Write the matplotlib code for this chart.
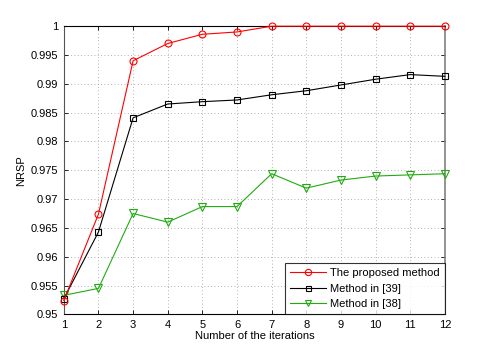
import matplotlib
matplotlib.use("Agg")
import matplotlib.pyplot as plt

iterations = [1, 2, 3, 4, 5, 6, 7, 8, 9, 10, 11, 12]
proposed = [0.9524, 0.9674, 0.9940, 0.9970, 0.9986, 0.9990, 1.0, 1.0, 1.0, 1.0, 1.0, 1.0]
method39 = [0.9527, 0.9643, 0.9841, 0.9865, 0.9869, 0.9872, 0.9881, 0.9888, 0.9898, 0.9908, 0.9916, 0.9913]
method38 = [0.9533, 0.9545, 0.9675, 0.9660, 0.9687, 0.9687, 0.9744, 0.9719, 0.9733, 0.9740, 0.9742, 0.9744]
labels = ["The proposed method", "Method in [39]", "Method in [38]"]
yticks = [0.95, 0.955, 0.96, 0.965, 0.97, 0.975, 0.98, 0.985, 0.99, 0.995, 1.0]
ytick_labels = ["0.95", "0.955", "0.96", "0.965", "0.97", "0.975", "0.98", "0.985", "0.99", "0.995", "1"]

plt.rcParams['font.family'] = ['Liberation Sans', 'DejaVu Sans']

fig = plt.figure(figsize=(4.91, 3.54), dpi=100)
ax = fig.add_axes([0.130, 0.112, 0.776, 0.814])

green = '#22aa11'
ax.plot(iterations, proposed, color='red', marker='o', markersize=5, markerfacecolor='none',
        markeredgewidth=0.8, linewidth=0.8, label=labels[0], clip_on=False, zorder=5)
ax.plot(iterations, method39, color='black', marker='s', markersize=4, markerfacecolor='none',
        markeredgewidth=0.8, linewidth=0.8, label=labels[1], clip_on=False, zorder=4)
ax.plot(iterations, method38, color=green, marker='v', markersize=5.5, markerfacecolor='none',
        markeredgewidth=0.8, linewidth=0.8, label=labels[2], clip_on=False, zorder=3)

ax.set_xlim(1, 12)
ax.set_ylim(0.95, 1.0)
ax.set_xticks(iterations)
ax.set_yticks(yticks)
ax.set_yticklabels(ytick_labels)
ax.tick_params(direction='in', labelsize=8, length=3, width=0.6, top=True, right=True, pad=4)
ax.grid(True, linestyle=(0, (1, 3)), color='#999999', linewidth=0.6)
for s in ['top', 'bottom']:
    ax.spines[s].set_color('black')
    ax.spines[s].set_linewidth(0.8)
ax.spines['left'].set_color('#555555')
ax.spines['right'].set_color('#808080')
ax.spines['left'].set_linewidth(0.8)
ax.spines['right'].set_linewidth(1.2)

ax.set_xlabel("Number of the iterations", fontsize=8, labelpad=1)
ax.set_ylabel("NRSP", fontsize=8, labelpad=3)

leg = ax.legend(loc='lower right', fontsize=8, frameon=True, fancybox=False, borderaxespad=0,
                handlelength=3.2, borderpad=0.45, labelspacing=0.5, handletextpad=0.4,
                numpoints=1, markerscale=0.9)
leg.get_frame().set_edgecolor('black')
leg.get_frame().set_linewidth(0.8)

fig.savefig("out.png", dpi=100)
